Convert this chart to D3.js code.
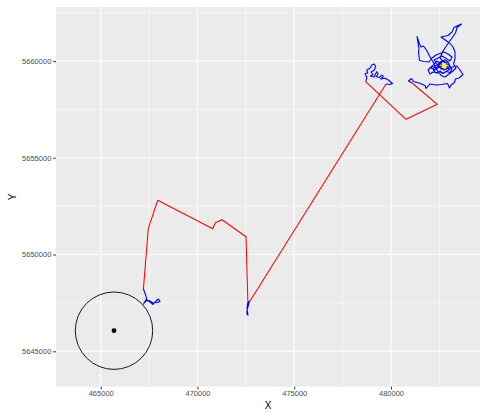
<!DOCTYPE html>
<html>
<head>
<meta charset="utf-8">
<script src="https://cdn.jsdelivr.net/npm/d3@7"></script>
<style>
  html, body { margin: 0; padding: 0; background: #ffffff; }
  svg { display: block; font-family: "Liberation Sans", Arial, sans-serif; }
</style>
</head>
<body>
<svg id="chart" width="480" height="415"></svg>
<script>
// Axis tick values (UTM easting / northing, metres)
const xTicks = [465000, 470000, 475000, 480000];
const yTicks = [5645000, 5650000, 5655000, 5660000];
const xMinor = [467500, 472500, 477500, 482500];
const yMinor = [5647500, 5652500, 5657500, 5662500];

// Interpolated track between fix clusters: [X, Y]
const trackSouth = [
  [467201, 5648167], [467460, 5651355], [467945, 5652802], [470787, 5651335],
  [470921, 5651645], [471268, 5651800], [472508, 5650921], [472601, 5647651],
  [472637, 5647470], [479741, 5658811]
];
const trackNorth = [
  [478693, 5658931], [480775, 5656987], [482392, 5657762], [481085, 5658863]
];

// GPS fixes, cluster by cluster: [X, Y]
const fixesA = [
  [467211, 5648219], [467263, 5648064], [467341, 5647857], [467366, 5647702],
  [467237, 5647496], [467392, 5647651], [467547, 5647547], [467702, 5647418],
  [467806, 5647547], [467987, 5647702], [468064, 5647573], [467909, 5647521],
  [467702, 5647496], [467496, 5647625], [467341, 5647599], [467186, 5647418]
];
const fixesB = [
  [472637, 5647599], [472585, 5647444], [472559, 5647237], [472585, 5647031],
  [472611, 5646876], [472549, 5646927], [472570, 5647186], [472627, 5647341],
  [472663, 5647547]
];
const fixesC = [
  [478693, 5658931], [478760, 5659148], [478657, 5659328], [478796, 5659396],
  [478744, 5659535], [478915, 5659623], [479003, 5659793], [479137, 5659845],
  [479209, 5659706], [479137, 5659535], [478967, 5659432], [479070, 5659303],
  [478941, 5659225], [479122, 5659173], [479261, 5659447], [479344, 5659328],
  [479225, 5659199], [479406, 5659148], [479520, 5659277], [479602, 5659189],
  [479457, 5659070], [479690, 5659106], [479861, 5659018], [480077, 5658838],
  [479948, 5658786], [479742, 5658812]
];
const fixesD = [
  [481085, 5658863], [480904, 5658967], [481059, 5659096], [481163, 5658941],
  [481447, 5658863], [481757, 5658734], [481808, 5658579], [482015, 5658812],
  [482351, 5658760], [482609, 5658786], [482919, 5658838], [483023, 5658605],
  [483100, 5658760], [483281, 5658889], [483333, 5659070], [483514, 5659122],
  [483720, 5659303], [483565, 5659535], [483410, 5659742], [483152, 5659690],
  [482945, 5659509], [482738, 5659406], [482428, 5659380], [482170, 5659432],
  [482015, 5659328], [481912, 5659535], [482118, 5659742], [482325, 5659613],
  [482532, 5659845], [482687, 5660000], [482893, 5659897], [482790, 5659664],
  [482583, 5659587], [482377, 5659845], [482222, 5660052], [482428, 5660155],
  [482635, 5660258], [482842, 5660129], [483049, 5660000], [483152, 5660207],
  [482945, 5660362], [482738, 5660465], [482532, 5660388], [482325, 5660310],
  [482118, 5660155], [481963, 5659948], [481705, 5659974], [481473, 5660026],
  [481421, 5660465], [481447, 5660594], [481343, 5661266], [481473, 5660879],
  [481550, 5660724], [481679, 5660775], [481860, 5660517], [481989, 5660258],
  [482170, 5659948], [482377, 5659535], [482583, 5659251], [482790, 5659173],
  [482997, 5659328], [483204, 5659483], [483359, 5659638], [483229, 5659845],
  [483307, 5660103], [483307, 5660465], [483204, 5660724], [483049, 5660904],
  [482842, 5661059], [482583, 5661240], [482945, 5661318], [483152, 5661499],
  [483255, 5661731], [483462, 5661834], [483643, 5661912], [483410, 5661731],
  [483333, 5661447], [483152, 5661189], [482893, 5660827], [482687, 5660517],
  [482532, 5660155], [482738, 5659948], [482842, 5659742], [482997, 5659638],
  [482738, 5659535], [482480, 5659690], [482273, 5659535], [482067, 5659638],
  [482222, 5659845], [482377, 5660000], [482532, 5659897], [482687, 5659768],
  [482893, 5659613], [483049, 5659742], [482945, 5659948], [482790, 5660052],
  [482583, 5659974], [482428, 5659819], [482273, 5659742], [482170, 5659561],
  [482325, 5659380], [482532, 5659483], [482687, 5659354], [482842, 5659458],
  [483049, 5659406], [483152, 5659587], [482997, 5659793], [482842, 5659819],
  [482687, 5659664], [482532, 5659742], [482377, 5659638], [482222, 5659690]
];

// Release site with 2 km buffer, and the cluster centre
const site = [465687, 5646065];
const siteRadius = 2000;
const centroid = [482754, 5659757];

// Layout (equal scale on both axes)
const panel = { left: 56, top: 7, right: 480, bottom: 386.7 };
const x = d3.scaleLinear().domain([462690, 484598]).range([panel.left, panel.right]);
const y = d3.scaleLinear().domain([5643171, 5662790]).range([panel.bottom, panel.top]);

const svg = d3.select("#chart");

svg.append("rect")
  .attr("x", panel.left).attr("y", panel.top)
  .attr("width", panel.right - panel.left).attr("height", panel.bottom - panel.top)
  .attr("fill", "#EBEBEB");

const grid = svg.append("g");
grid.selectAll(".xmin").data(xMinor).join("line")
  .attr("x1", d => x(d)).attr("x2", d => x(d))
  .attr("y1", panel.top).attr("y2", panel.bottom)
  .attr("stroke", "#ffffff").attr("stroke-width", 0.55);
grid.selectAll(".ymin").data(yMinor).join("line")
  .attr("y1", d => y(d)).attr("y2", d => y(d))
  .attr("x1", panel.left).attr("x2", panel.right)
  .attr("stroke", "#ffffff").attr("stroke-width", 0.55);
grid.selectAll(".xmaj").data(xTicks).join("line")
  .attr("x1", d => x(d)).attr("x2", d => x(d))
  .attr("y1", panel.top).attr("y2", panel.bottom)
  .attr("stroke", "#ffffff").attr("stroke-width", 1.1);
grid.selectAll(".ymaj").data(yTicks).join("line")
  .attr("y1", d => y(d)).attr("y2", d => y(d))
  .attr("x1", panel.left).attr("x2", panel.right)
  .attr("stroke", "#ffffff").attr("stroke-width", 1.1);

const line = d3.line().x(d => x(d[0])).y(d => y(d[1]));

const plot = svg.append("g");
[trackSouth, trackNorth].forEach(seg => {
  plot.append("path").attr("d", line(seg))
    .attr("fill", "none").attr("stroke", "#FF0000").attr("stroke-width", 1.05)
    .attr("stroke-linejoin", "round");
});
[fixesA, fixesB, fixesC, fixesD].forEach(seg => {
  plot.append("path").attr("d", line(seg))
    .attr("fill", "none").attr("stroke", "#0000FF").attr("stroke-width", 1.1)
    .attr("stroke-linejoin", "round");
});

// Buffer circle drawn through the x scale so radius stays in metres
plot.append("circle")
  .attr("cx", x(site[0])).attr("cy", y(site[1]))
  .attr("r", x(site[0] + siteRadius) - x(site[0]))
  .attr("fill", "none").attr("stroke", "#1a1a1a").attr("stroke-width", 1);
plot.append("circle")
  .attr("cx", x(site[0])).attr("cy", y(site[1])).attr("r", 2.4)
  .attr("fill", "#000000");
plot.append("circle")
  .attr("cx", x(centroid[0])).attr("cy", y(centroid[1])).attr("r", 2.6)
  .attr("fill", "#FFFF00");

// Axes
const xAxis = svg.append("g")
  .attr("transform", `translate(0,${panel.bottom})`)
  .call(d3.axisBottom(x).tickValues(xTicks).tickFormat(d3.format("d"))
    .tickSize(2.7).tickPadding(1.5));
const yAxis = svg.append("g")
  .attr("transform", `translate(${panel.left},0)`)
  .call(d3.axisLeft(y).tickValues(yTicks).tickFormat(d3.format("d"))
    .tickSize(2.7).tickPadding(2));
[xAxis, yAxis].forEach(g => {
  g.select(".domain").remove();
  g.selectAll(".tick line").attr("stroke", "#333333").attr("stroke-width", 1);
  g.selectAll(".tick text").attr("fill", "#4D4D4D")
    .style("font-size", "7.5px").style("font-family", "'Liberation Sans', Arial, sans-serif");
});

svg.append("text")
  .attr("x", (panel.left + panel.right) / 2).attr("y", 409)
  .attr("text-anchor", "middle").attr("fill", "#000")
  .style("font-size", "10px").text("X");
svg.append("text")
  .attr("transform", `translate(16,${(panel.top + panel.bottom) / 2}) rotate(-90)`)
  .attr("text-anchor", "middle").attr("fill", "#000")
  .style("font-size", "10px").text("Y");
</script>
</body>
</html>
